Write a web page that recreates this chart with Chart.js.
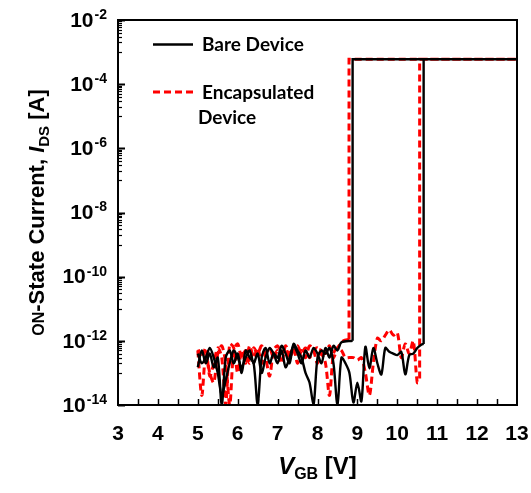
<!DOCTYPE html>
<html>
<head>
<meta charset="utf-8">
<script src="https://cdn.jsdelivr.net/npm/chart.js@4"></script>
<style>
  html, body { margin: 0; padding: 0; background: #fff; }
  #wrap { width: 531px; height: 493px; }
</style>
</head>
<body>
<div id="wrap"><canvas id="ivChart" width="531" height="493"></canvas></div>
<script>
// Gate voltage sweep data
const onCurrent = 6e-4;

// Bare device, forward sweep (off-state noise, then switches on near 10.66 V)
const bareFwdV = [5.0, 5.1, 5.2, 5.3, 5.4, 5.5, 5.6, 5.7, 5.8, 5.9, 6.0, 6.1, 6.2, 6.3, 6.4, 6.5, 6.6, 6.7, 6.8, 6.9,
	7.0, 7.1, 7.2, 7.3, 7.4, 7.5, 7.6, 7.7, 7.8, 7.9, 8.0, 8.1, 8.2, 8.3, 8.4, 8.5, 8.6, 8.7, 8.8, 8.9,
	9.0, 9.1, 9.2, 9.3, 9.4, 9.5, 9.6, 9.7, 9.8, 9.9, 10.0, 10.1, 10.2, 10.3, 10.4, 10.5, 10.6, 10.66];
const bareFwdI = [1.5e-13, 5e-13, 2e-13, 4e-13, 1.5e-13, 3e-13, 1e-14, 3e-13, 5e-13, 2e-13, 4e-13, 1e-13, 5e-13, 3e-13, 2e-13, 1e-14, 3e-13, 6e-13, 2e-13, 4e-13,
	3e-13, 7e-13, 4e-13, 2e-13, 8e-13, 5e-13, 3e-13, 1e-13, 5e-14, 1e-14, 3e-13, 5e-13, 4e-13, 6e-13, 2e-13, 1e-14, 3e-13, 2e-13, 1e-13, 1.2e-14,
	5e-14, 1.3e-14, 6.5e-13, 1.4e-13, 6e-13, 2e-13, 9e-14, 6e-13, 4.6e-13, 4e-13, 3.6e-13, 4.5e-13, 9e-14, 3.6e-13, 4e-13, 6e-13, 7.6e-13, 8e-13];

// Bare device, reverse sweep (on until 8.88 V, then off-state noise)
const bareRevV = [8.88, 8.6, 8.5, 8.4, 8.3, 8.2, 8.1, 8.0, 7.9, 7.8, 7.7, 7.6, 7.5, 7.4, 7.3, 7.2, 7.1, 7.0, 6.9, 6.8,
	6.7, 6.6, 6.5, 6.4, 6.3, 6.2, 6.1, 6.0, 5.9, 5.8, 5.7, 5.6, 5.5, 5.4, 5.3, 5.2, 5.1, 5.0];
const bareRevI = [1e-12, 9e-13, 5e-13, 7e-13, 3e-13, 6e-13, 2e-13, 4e-13, 6e-13, 3e-13, 5e-13, 2e-13, 4e-13, 7e-13, 3e-13, 1.5e-13, 5e-13, 2e-13, 4e-13, 6e-13,
	3e-13, 1e-13, 4e-13, 2e-13, 5e-13, 3e-13, 1.5e-13, 3e-13, 5e-13, 2e-13, 6e-14, 2e-14, 1e-13, 3e-13, 6e-13, 3e-13, 2e-13, 4e-13];

// Encapsulated device, forward sweep (switches on near 10.56 V)
const encFwdV = [5.0, 5.1, 5.2, 5.3, 5.4, 5.5, 5.6, 5.7, 5.8, 5.9, 6.0, 6.1, 6.2, 6.3, 6.4, 6.5, 6.6, 6.7, 6.8, 6.9,
	7.0, 7.1, 7.2, 7.3, 7.4, 7.5, 7.6, 7.7, 7.8, 7.9, 8.0, 8.1, 8.2, 8.3, 8.4, 8.5, 8.6, 8.7, 8.8, 8.9,
	9.0, 9.1, 9.2, 9.3, 9.4, 9.5, 9.6, 9.7, 9.8, 9.9, 10.0, 10.1, 10.2, 10.3, 10.4, 10.5, 10.56];
const encFwdI = [5e-13, 2e-14, 4e-13, 1e-13, 5e-14, 4e-13, 7e-13, 2e-13, 1e-14, 5e-13, 8e-13, 3e-13, 5e-13, 2e-13, 6e-13, 4e-13, 7e-13, 3e-13, 8e-14, 5e-13,
	7e-13, 4e-13, 6e-13, 3e-13, 5e-13, 7e-13, 4e-13, 6e-13, 3e-13, 5e-13, 6e-13, 4e-13, 2e-13, 2e-14, 4e-13, 6e-13, 5e-13, 3e-13, 3e-13, 3e-13,
	2.5e-13, 3e-13, 1e-13, 2e-14, 2e-13, 1.2e-12, 1e-12, 1.5e-12, 2.2e-12, 1.5e-12, 1.8e-12, 3e-13, 8e-13, 4e-13, 1e-12, 5e-14, 5e-14];

// Encapsulated device, reverse sweep (on until 8.79 V)
const encRevV = [8.79, 8.65, 8.5, 8.4, 8.3, 8.2, 8.1, 8.0, 7.9, 7.8, 7.7, 7.6, 7.5, 7.4, 7.3, 7.2, 7.1, 7.0, 6.9, 6.8,
	6.7, 6.6, 6.5, 6.4, 6.3, 6.2, 6.1, 6.0, 5.9, 5.8, 5.7, 5.6, 5.5, 5.4, 5.3, 5.2, 5.1, 5.0];
const encRevI = [1.1e-12, 1e-12, 6e-13, 3e-13, 7e-13, 4e-13, 6e-13, 2e-13, 5e-13, 7e-13, 3e-13, 5e-13, 2e-13, 6e-13, 4e-13, 7e-13, 2e-13, 5e-13, 3e-13, 6e-13,
	4e-13, 2e-13, 6e-13, 3e-13, 7e-13, 2e-13, 5e-13, 1e-13, 6e-13, 8e-13, 1e-14, 3e-13, 6e-13, 2e-13, 8e-14, 6e-13, 3e-13, 6e-13];

// Switching voltages (on-state plateau goes from these to the end of the sweep)
const bareSwitchV = [8.88, 10.66, 13];
const encSwitchV = [8.79, 10.56, 13];

// Axis ticks
const xTicks = [3, 4, 5, 6, 7, 8, 9, 10, 11, 12, 13];
const yExponents = [-2, -4, -6, -8, -10, -12, -14];

const FONT = "'Liberation Sans', Arial, sans-serif";
const LEGEND_FONT = "Lato, 'Open Sans', sans-serif";

function pairs(xs, ys) {
	return xs.map((x, i) => ({ x: x, y: ys[i] }));
}

// On-state segment: up at the reverse switch, across to 13 V, back down at the forward switch
function onBranch(sw, fwdLast, revFirst) {
	return [
		{ x: sw[0], y: revFirst },
		{ x: sw[0], y: onCurrent },
		{ x: sw[1], y: onCurrent },
		{ x: sw[2], y: onCurrent },
		{ x: sw[1], y: onCurrent },
		{ x: sw[1], y: fwdLast },
	];
}

const blackStyle = { borderColor: "#000", borderWidth: 2.4, pointRadius: 0, fill: false };
const redStyle = { borderColor: "#ff0000", borderWidth: 3, borderDash: [7, 4], pointRadius: 0, fill: false };

const datasets = [
	Object.assign({ label: "bareFwd", data: pairs(bareFwdV, bareFwdI), tension: 0.3 }, blackStyle),
	Object.assign({ label: "bareRev", data: pairs(bareRevV, bareRevI), tension: 0.3 }, blackStyle),
	Object.assign({ label: "bareOn", data: onBranch(bareSwitchV, bareFwdI[bareFwdI.length - 1], bareRevI[0]), tension: 0 }, blackStyle),
	Object.assign({ label: "encFwd", data: pairs(encFwdV, encFwdI), tension: 0.3 }, redStyle),
	Object.assign({ label: "encRev", data: pairs(encRevV, encRevI), tension: 0.3 }, redStyle),
	Object.assign({ label: "encOn", data: onBranch(encSwitchV, encFwdI[encFwdI.length - 1], encRevI[0]), tension: 0 }, redStyle),
];

// draw a row of text runs centred on cx
function drawParts(ctx, parts, cx, baseline) {
	let total = 0;
	for (const p of parts) {
		ctx.font = p.f;
		total += ctx.measureText(p.t).width;
	}
	let x = cx - total / 2;
	for (const p of parts) {
		ctx.font = p.f;
		ctx.textAlign = "left";
		ctx.textBaseline = "alphabetic";
		ctx.fillText(p.t, x, baseline + p.dy);
		x += ctx.measureText(p.t).width;
	}
}

// Frame, inside ticks, tick labels, axis titles and legend
const axesPlugin = {
	id: "axesPlugin",
	afterDatasetsDraw(chart) {
		const ctx = chart.ctx;
		const area = chart.chartArea;
		const xs = chart.scales.x;
		const ys = chart.scales.y;
		ctx.save();
		ctx.strokeStyle = "#000";
		ctx.fillStyle = "#000";
		ctx.setLineDash([]);

		// x ticks every 0.5 V, inside
		ctx.lineWidth = 1.5;
		for (let v = 3.5; v < 13; v += 0.5) {
			const px = Math.round(xs.getPixelForValue(v)) + 0.5;
			ctx.beginPath();
			ctx.moveTo(px, area.bottom);
			ctx.lineTo(px, area.bottom - 6);
			ctx.stroke();
		}

		// y ticks: major at labelled decades, minor at k*10^(e-1) just below each
		for (const e of yExponents) {
			const py = Math.round(ys.getPixelForValue(Math.pow(10, e))) + 0.5;
			ctx.lineWidth = 2;
			ctx.beginPath();
			ctx.moveTo(area.left, py);
			ctx.lineTo(area.left + 7, py);
			ctx.stroke();
			if (e > -14) {
				ctx.lineWidth = 1.2;
				for (let k = 1; k <= 9; k++) {
					const my = Math.round(ys.getPixelForValue(k * Math.pow(10, e - 1))) + 0.5;
					ctx.beginPath();
					ctx.moveTo(area.left, my);
					ctx.lineTo(area.left + 4, my);
					ctx.stroke();
				}
			}
		}

		// frame
		ctx.lineWidth = 2;
		ctx.strokeRect(area.left, area.top, area.right - area.left, area.bottom - area.top);

		// x tick labels
		ctx.font = "bold 21px " + FONT;
		ctx.textAlign = "center";
		ctx.textBaseline = "middle";
		for (const v of xTicks) {
			ctx.fillText(String(v), xs.getPixelForValue(v), area.bottom + 29);
		}

		// y tick labels 10^n
		for (const e of yExponents) {
			const py = ys.getPixelForValue(Math.pow(10, e));
			const sup = String(e);
			ctx.font = "bold 14px " + FONT;
			const supW = ctx.measureText(sup).width;
			ctx.textAlign = "right";
			ctx.textBaseline = "middle";
			ctx.fillText(sup, 107, py - 5);
			ctx.font = "bold 21px " + FONT;
			ctx.fillText("10", 106 - supW, py + 1);
		}

		// x axis title: V_GB [V]
		const midX = (area.left + area.right) / 2;
		drawParts(ctx, [
			{ t: "V", f: "italic bold 24px " + FONT, dy: 0 },
			{ t: "GB", f: "bold 16px " + FONT, dy: 5 },
			{ t: " [V]", f: "bold 24px " + FONT, dy: 0 },
		], midX, 474);

		// y axis title, rotated
		ctx.save();
		ctx.translate(44, (area.top + area.bottom) / 2);
		ctx.rotate(-Math.PI / 2);
		drawParts(ctx, [
			{ t: "ON", f: "bold 16px " + FONT, dy: 0 },
			{ t: "-State Current, ", f: "bold 22px " + FONT, dy: 0 },
			{ t: "I", f: "italic bold 22px " + FONT, dy: 0 },
			{ t: "DS", f: "bold 15px " + FONT, dy: 5 },
			{ t: " [A]", f: "bold 22px " + FONT, dy: 0 },
		], 0, 0);
		ctx.restore();

		// legend
		ctx.lineWidth = 2.4;
		ctx.strokeStyle = "#000";
		ctx.beginPath();
		ctx.moveTo(153, 44.5);
		ctx.lineTo(193, 44.5);
		ctx.stroke();
		ctx.strokeStyle = "#ff0000";
		ctx.lineWidth = 3;
		ctx.setLineDash([7, 4]);
		ctx.beginPath();
		ctx.moveTo(153, 92);
		ctx.lineTo(193, 92);
		ctx.stroke();
		ctx.setLineDash([]);
		ctx.font = "bold 19px " + LEGEND_FONT;
		ctx.textAlign = "left";
		ctx.textBaseline = "middle";
		ctx.fillStyle = "#000";
		ctx.fillText("Bare Device", 202, 45);
		ctx.fillText("Encapsulated", 202, 93);
		ctx.fillText("Device", 198, 118);
		ctx.restore();
	},
};

// scales take no room, so the plot box equals the layout padding
const noSpace = {
	afterFit(scale) {
		if (scale.isHorizontal()) scale.height = 0;
		else scale.width = 0;
	},
};

const ctxEl = document.getElementById("ivChart");
new Chart(ctxEl, {
	type: "line",
	data: { datasets: datasets },
	options: {
		responsive: false,
		animation: false,
		layout: { padding: { left: 118, top: 20, right: 14, bottom: 88 } },
		plugins: { legend: { display: false }, tooltip: { enabled: false } },
		scales: {
			x: Object.assign({
				type: "linear",
				min: 3,
				max: 13,
				ticks: { display: false },
				grid: { display: false },
				border: { display: false },
			}, noSpace),
			y: Object.assign({
				type: "logarithmic",
				min: 1e-14,
				max: 1e-2,
				ticks: { display: false },
				grid: { display: false },
				border: { display: false },
			}, noSpace),
		},
	},
	plugins: [axesPlugin],
});
</script>
</body>
</html>
